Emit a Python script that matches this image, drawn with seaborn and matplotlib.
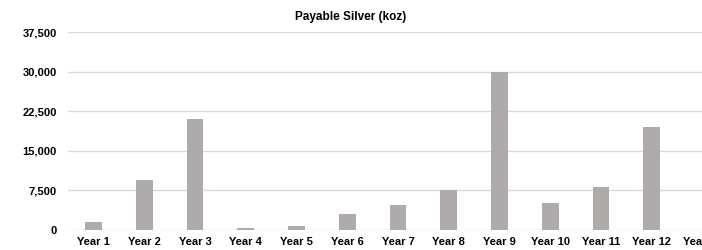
import matplotlib
matplotlib.use('Agg')
import matplotlib.pyplot as plt
import seaborn as sns
import pandas as pd
from matplotlib.ticker import FuncFormatter

# Data
years = ['Year 1', 'Year 2', 'Year 3', 'Year 4', 'Year 5', 'Year 6', 'Year 7',
         'Year 8', 'Year 9', 'Year 10', 'Year 11', 'Year 12', 'Year 13']
silver_koz = [1550, 9500, 21100, 350, 850, 2950, 4750,
              7500, 30000, 5100, 8050, 19550, 0]

df = pd.DataFrame({'year': years, 'silver': silver_koz})

sns.set_theme(style='white')
plt.rcParams['font.family'] = ['Liberation Sans', 'DejaVu Sans']
plt.rcParams['text.color'] = 'black'

fig = plt.figure(figsize=(7.02, 2.5), dpi=100)
# axes runs past the right edge, like the cropped original
ax = fig.add_axes([68 / 702, 0.08, 660 / 702, 0.792])

sns.barplot(data=df, x='year', y='silver', color='#afabab', width=0.33,
            saturation=1, linewidth=0, ax=ax)

ax.set_ylim(0, 37500)
ax.set_xlim(-0.5, len(years) - 0.5)
ax.set_yticks([0, 7500, 15000, 22500, 30000, 37500])
ax.yaxis.set_major_formatter(FuncFormatter(lambda v, p: f'{int(v):,}'))
ax.grid(axis='y', color='#d9d9d9', linewidth=1)
ax.set_axisbelow(True)
for s in ax.spines.values():
    s.set_visible(False)
ax.tick_params(axis='both', length=0, labelsize=8, colors='black')
ax.tick_params(axis='y', pad=8)
ax.tick_params(axis='x', pad=5)
for lbl in ax.get_xticklabels() + ax.get_yticklabels():
    lbl.set_fontweight('bold')
ax.set_xlabel('')
ax.set_ylabel('')

fig.text(0.5, 1 - 17 / 250, 'Payable Silver (koz)', ha='center', va='center',
         fontsize=8.5, fontweight='bold', color='black')

fig.savefig('out.png', dpi=100)
